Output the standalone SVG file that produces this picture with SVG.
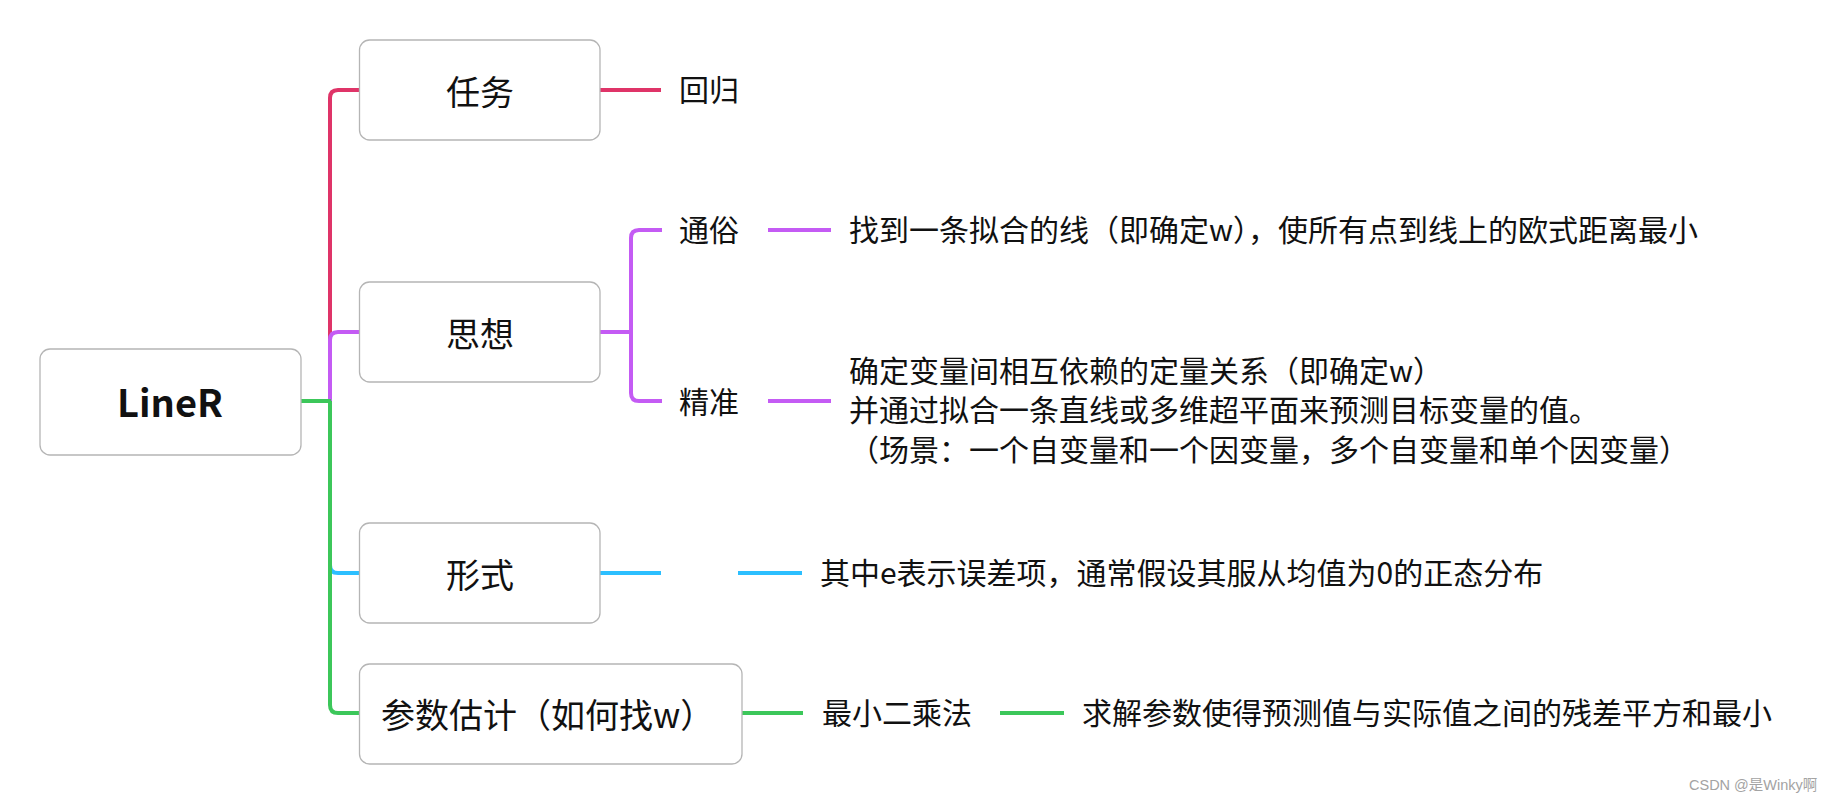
<svg xmlns="http://www.w3.org/2000/svg" width="1842" height="803" viewBox="0 0 1842 803">
<style>
.box{fill:#fff;stroke:#b5b5b5;stroke-width:1.3}
.t{font-family:"Noto Sans CJK SC","Noto Sans",sans-serif;fill:#111}
.main{font-size:34px}
.sub{font-size:30px}
.root{font-size:38px;font-weight:bold}
.ln{fill:none;stroke-width:4;stroke-linecap:butt;stroke-linejoin:round}
.red{stroke:#df3468}
.pur{stroke:#c45bf4}
.blu{stroke:#2cbfff}
.grn{stroke:#3cc75a}
.wm{font-family:"Liberation Sans","Noto Sans CJK SC",sans-serif;font-size:14.5px;fill:#a3a3a3}
</style>
<rect width="1842" height="803" fill="#fff"/>
<g id="connectors">
<path class="ln red" d="M330,401 V98 Q330,90 338,90 H359"/>
<path class="ln pur" d="M330,401 V340 Q330,332 338,332 H359"/>
<path class="ln blu" d="M330,401 V565 Q330,573 338,573 H359"/>
<path class="ln grn" d="M330,401 V705 Q330,713 338,713 H359"/>
<path class="ln grn" d="M301,401 H331"/>
<path class="ln red" d="M600,90 H661"/>
<path class="ln pur" d="M600,332 H631"/>
<path class="ln pur" d="M662,230 H639 Q631,230 631,238 V393 Q631,401 639,401 H662"/>
<path class="ln pur" d="M768,230 H831"/>
<path class="ln pur" d="M768,401 H831"/>
<path class="ln blu" d="M600,573 H661"/>
<path class="ln blu" d="M738,573 H802"/>
<path class="ln grn" d="M742,713 H803"/>
<path class="ln grn" d="M1000,713 H1064"/>
</g>
<g id="root">
<rect class="box" x="40" y="349" width="261" height="106" rx="10"/>
<text class="t root" x="170" y="417" text-anchor="middle">LineR</text>
</g>
<g id="renwu">
<rect class="box" x="359.5" y="40" width="240.5" height="100" rx="10"/>
<text class="t main" x="480" y="105" text-anchor="middle">任务</text>
</g>
<g id="huigui">
<text class="t sub" x="679" y="101">回归</text>
</g>
<g id="sixiang">
<rect class="box" x="359.5" y="282" width="240.5" height="100" rx="10"/>
<text class="t main" x="480" y="347" text-anchor="middle">思想</text>
</g>
<g id="tongsu">
<text class="t sub" x="679" y="241">通俗</text>
</g>
<g id="tongsu-desc">
<text class="t sub" x="849" y="241">找到一条拟合的线（即确定w），使所有点到线上的欧式距离最小</text>
</g>
<g id="jingzhun">
<text class="t sub" x="679" y="413">精准</text>
</g>
<g id="jingzhun-desc">
<text class="t sub" x="849" y="382"><tspan x="849" y="382">确定变量间相互依赖的定量关系（即确定w）</tspan><tspan x="849" y="421">并通过拟合一条直线或多维超平面来预测目标变量的值。</tspan><tspan x="849" y="461">（场景：一个自变量和一个因变量，多个自变量和单个因变量）</tspan></text>
</g>
<g id="xingshi">
<rect class="box" x="359.5" y="523" width="240.5" height="100" rx="10"/>
<text class="t main" x="480" y="588" text-anchor="middle">形式</text>
</g>
<g id="xingshi-desc">
<text class="t sub" x="820" y="584">其中e表示误差项，通常假设其服从均值为0的正态分布</text>
</g>
<g id="canshu">
<rect class="box" x="359.5" y="664" width="382.5" height="100" rx="10"/>
<text class="t main" x="381" y="728">参数估计（如何找w）</text>
</g>
<g id="zuixiao">
<text class="t sub" x="822" y="724">最小二乘法</text>
</g>
<g id="zuixiao-desc">
<text class="t sub" x="1082" y="724">求解参数使得预测值与实际值之间的残差平方和最小</text>
</g>
<text class="wm" x="1689" y="790">CSDN @是Winky啊</text>
</svg>
